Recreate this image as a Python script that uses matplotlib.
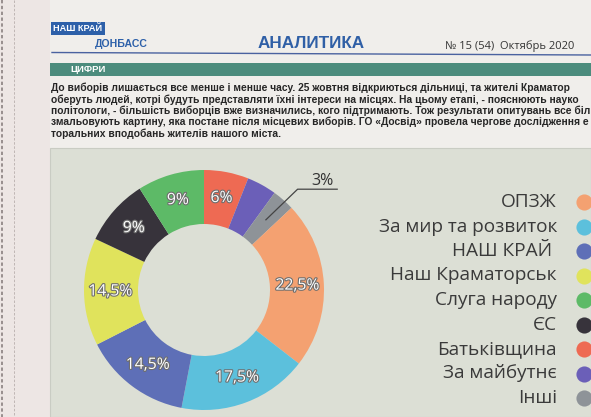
import matplotlib
matplotlib.use("Agg")
import matplotlib.pyplot as plt
import matplotlib.patches as mpatches
import matplotlib.patheffects as pe
import numpy as np

# survey results (legend order)
parties = ["ОПЗЖ", "За мир та розвиток", "НАШ КРАЙ ", "Наш Краматорськ", "Слуга народу",
           "ЄС", "Батьківщина", "За майбутнє", "Інші"]
shares = [22.5, 17.5, 14.5, 14.5, 9, 9, 6, 4, 3]
colors = ["#F4A171", "#5CC0DC", "#5E6FB7", "#E0E35C", "#5DBA67",
          "#37333B", "#EE6A53", "#6B5FB8", "#8E9398"]
# order of the slices clockwise from 12 o'clock
ring_order = [6, 7, 8, 0, 1, 2, 3, 5, 4]

paragraph = [
    "До виборів лишається все менше і менше часу. 25 жовтня відкриються дільниці, та жителі Краматор",
    "оберуть людей, котрі будуть представляти їхні інтереси на місцях. На цьому етапі, - пояснюють науко",
    "політологи, - більшість виборців вже визначились, кого підтримають. Тож результати опитувань все біл",
    "змальовують картину, яка постане після місцевих виборів. ГО «Досвід» провела чергове дослідження е",
    "торальних вподобань жителів нашого міста.",
]

W, H = 591, 417
fig = plt.figure(figsize=(W / 100, H / 100), dpi=100)
fig.patch.set_facecolor("#F0EEEB")

bg = fig.add_axes([0, 0, 1, 1])
bg.set_xlim(0, W)
bg.set_ylim(H, 0)
bg.axis("off")

bold = ["Liberation Sans", "DejaVu Sans"]
sans = ["Open Sans", "DejaVu Sans"]

# paper edge on the left
bg.add_patch(mpatches.Rectangle((0, 0), 50, H, color="#EDE6E4", lw=0))
bg.plot([2, 2], [0, H], color="#8a8080", lw=1.2, ls=(0, (2, 1.5)))
bg.plot([14, 14], [0, H], color="#b8aeac", lw=0.6, ls=(0, (3, 2)))

# header
bg.add_patch(mpatches.Rectangle((51, 22), 54, 13, color="#2D60A9", lw=0))
bg.text(78, 28.5, "НАШ КРАЙ", color="white", fontsize=6.6, fontweight="bold",
        family=bold, ha="center", va="center")
bg.text(95, 43.5, "ДОНБАСС", color="#2D60A9", fontsize=7.6, fontweight="bold",
        family=bold, ha="left", va="center")
bg.text(258, 43, "АНАЛИТИКА", color="#2F5FA6", fontsize=12.3, fontweight="bold",
        family=bold, ha="left", va="center")
bg.text(445, 46, "№ 15 (54)  Октябрь 2020", color="#333333", fontsize=8,
        family=sans, ha="left", va="center")
bg.plot([52, W], [52.5, 55], color="#4A62A0", lw=1.0)

# green band
bg.add_patch(mpatches.Rectangle((50, 63), W - 50, 13, color="#4C8C7D", lw=0))
bg.text(70, 69.5, "ЦИФРИ", color="white", fontsize=6.8, fontweight="bold",
        family=bold, ha="left", va="center")

# intro paragraph
for i, line in enumerate(paragraph):
    bg.text(51, 88 + i * 11.4, line, color="#262626", fontsize=7.35, fontweight="bold",
            family=bold, ha="left", va="center")

# chart panel
bg.add_patch(mpatches.Rectangle((50, 148), W - 50, H - 148, facecolor="#DCDFD5",
                                edgecolor="#c9ccc3", lw=0.8))

# legend: right aligned names with coloured dots
for i, (name, col) in enumerate(zip(parties, colors)):
    y = 202 + i * 24.5
    bg.text(557, y, name, color="#3a3a3a", fontsize=13.7, family=sans,
            ha="right", va="center")
    bg.scatter([584], [y], s=135, color=col, lw=0, clip_on=False)

# donut
cx, cy, r = 204, 290, 120
ax = fig.add_axes([(cx - r) / W, (H - cy - r) / H, 2 * r / W, 2 * r / H])
vals = [shares[k] for k in ring_order]
cols = [colors[k] for k in ring_order]


def fmt(p):
    if p < 5:
        return ""
    s = ("%.1f" % p).replace(".", ",")
    if s.endswith(",0"):
        s = s[:-2]
    return s + "%"


wedges, _, autotexts = ax.pie(vals, colors=cols, startangle=90, counterclock=False,
                              radius=1, autopct=fmt, pctdistance=0.78,
                              wedgeprops=dict(width=0.45, linewidth=0))
for t in autotexts:
    t.set_color("white")
    t.set_fontsize(11.3)
    t.set_family(sans)
    t.set_path_effects([pe.withStroke(linewidth=1.6, foreground="#6e6e6e")])
ax.set_xlim(-1, 1)
ax.set_ylim(-1, 1)

# small slice labelled outside with a leader line
small = wedges[2]
mid = np.deg2rad((small.theta1 + small.theta2) / 2)
p0 = (0.78 * np.cos(mid), 0.78 * np.sin(mid))
ax.plot([p0[0], 0.78, 1.11], [p0[1], 0.84, 0.84], color="#444444", lw=0.9, clip_on=False)
ax.text(0.99, 0.905, "3%", color="#333333", fontsize=11.5, family=sans,
        ha="center", va="center")

fig.savefig("out.png", dpi=100, facecolor=fig.get_facecolor())
